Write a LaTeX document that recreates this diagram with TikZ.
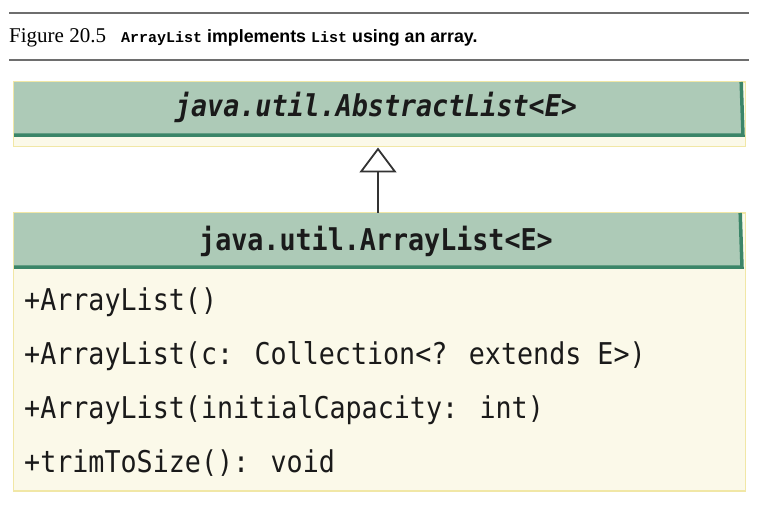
\documentclass[tikz,border=0pt]{standalone}
\usepackage{fontspec}
\usetikzlibrary{arrows.meta}
\newfontfamily\capserif{Liberation Serif}
\newfontfamily\capsans{Liberation Sans}
\newfontfamily\capmono{Liberation Mono}
\newfontfamily\umlmono[FakeStretch=0.89]{DejaVu Sans Mono}
\definecolor{hdrgreen}{HTML}{ADCAB7}
\definecolor{darkgreen}{HTML}{3B8568}
\definecolor{cream}{HTML}{FBF9E9}
\definecolor{paleyellow}{HTML}{F1E7A6}
\definecolor{rulegray}{HTML}{6E6E6E}
\definecolor{inkc}{HTML}{1A1A1A}
\tikzset{
  rulestyle/.style={draw=rulegray, line width=1.6pt},
  bodybox/.style={fill=cream, draw=paleyellow, line width=1.6pt},
  hdrbox/.style={fill=hdrgreen, draw=none},
  hdredge/.style={draw=darkgreen, line width=3.5pt},
  captxt/.style={inner sep=0pt, anchor=base west, text=black},
  titletxt/.style={inner sep=0pt, anchor=base, text=inkc, font=\umlmono\fontsize{30}{34}\selectfont\bfseries},
  methtxt/.style={inner sep=0pt, anchor=base west, text=inkc, font=\umlmono\fontsize{30}{34}\selectfont},
  genarrow/.style={draw=black!80, line width=1.8pt, -{Triangle[open, length=25pt, width=37pt, line width=1.8pt]}}
}
\begin{document}
\begin{tikzpicture}[x=1pt, y=-1pt]
\useasboundingbox (0,0) rectangle (758,518);
% caption rules
\draw[rulestyle] (9,13) -- (749,13);
\draw[rulestyle] (9,60) -- (749,60);
% caption
\node[captxt, font=\capserif\fontsize{21}{25}\selectfont] (capfig) at (9,43) {Figure 20.5};
\node[captxt, font=\capmono\fontsize{15}{18}\selectfont\bfseries] (capcls) at (121,43) {ArrayList};
\node[captxt, font=\capsans\fontsize{17.8}{21}\selectfont\bfseries] (capimp) at (207,43) {implements};
\node[captxt, font=\capmono\fontsize{15}{18}\selectfont\bfseries] (caplist) at (311,43) {List};
\node[captxt, font=\capsans\fontsize{17.8}{21}\selectfont\bfseries] (capuse) at (352,43) {using an array.};
% super class box
\path[bodybox] (13.5,82) rectangle (745.5,146.5);
\path[hdrbox] (14,82) rectangle (743,137);
\draw[hdredge] (14,135.2) -- (743,135.2) -- (741.2,82);
\node[titletxt, font=\umlmono\fontsize{30}{34}\selectfont\bfseries\itshape] (super) at (376,117) {java.util.AbstractList<E>};
\coordinate (superbot) at (378,147.5);
% sub class box
\path[bodybox] (13.5,213) rectangle (745.5,491);
\path[hdrbox] (14,213) rectangle (742,269);
\draw[hdredge] (14,267.2) -- (742,267.2) -- (740.2,213);
\node[titletxt] (sub) at (376,251) {java.util.ArrayList<E>};
\coordinate (subtop) at (378,213);
% methods
\node[methtxt] (m1) at (24,311) {+ArrayList()};
\node[methtxt] (m2) at (24,365) {+ArrayList(c: Collection<? extends E>)};
\node[methtxt] (m3) at (24,419) {+ArrayList(initialCapacity: int)};
\node[methtxt] (m4) at (24,473) {+trimToSize(): void};
% generalization arrow
\draw[genarrow] (subtop) -- (superbot);
\end{tikzpicture}
\end{document}
